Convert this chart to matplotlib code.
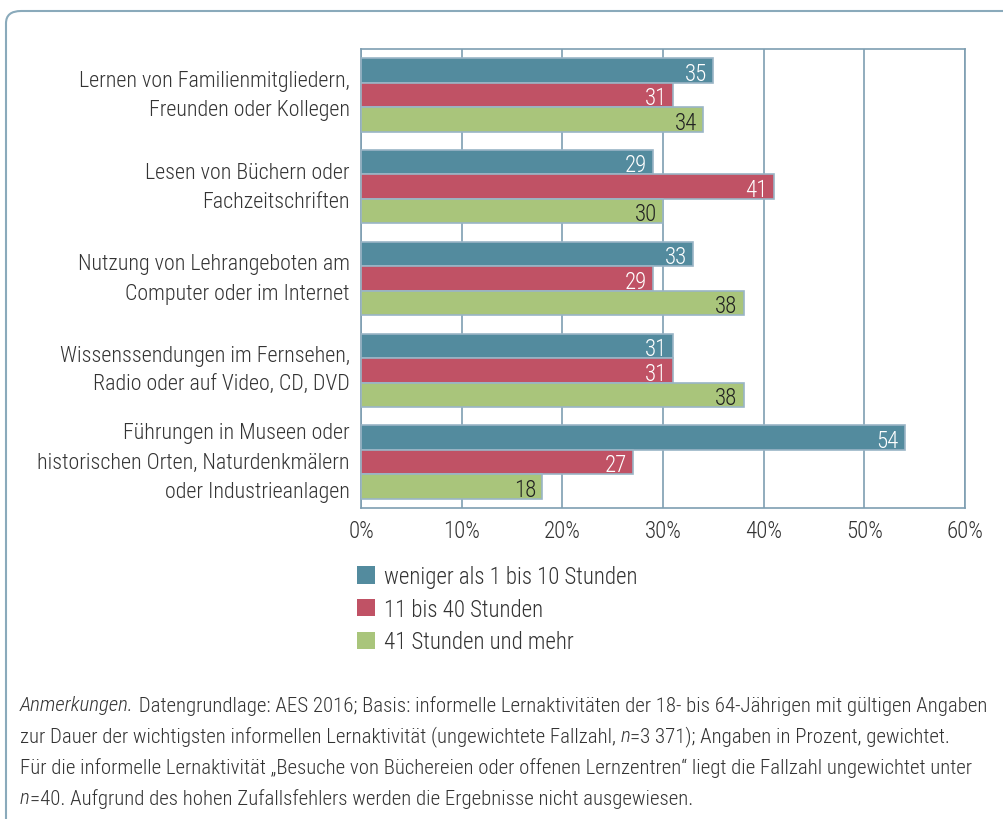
import matplotlib.pyplot as plt
from matplotlib.patches import FancyBboxPatch, Patch

# data
categories = [
    "Lernen von Familienmitgliedern,\nFreunden oder Kollegen",
    "Lesen von Büchern oder\nFachzeitschriften",
    "Nutzung von Lehrangeboten am\nComputer oder im Internet",
    "Wissenssendungen im Fernsehen,\nRadio oder auf Video, CD, DVD",
    "Führungen in Museen oder\nhistorischen Orten, Naturdenkmälern\noder Industrieanlagen",
]
series_names = ["weniger als 1 bis 10 Stunden", "11 bis 40 Stunden", "41 Stunden und mehr"]
short_vals = [35, 29, 33, 31, 54]
mid_vals = [31, 41, 29, 31, 27]
long_vals = [34, 30, 38, 38, 18]
x_ticks = [0, 10, 20, 30, 40, 50, 60]

colors = ["#538b9e", "#c05265", "#a9c57b"]
label_colors = ["white", "white", "#222222"]
edge = "#9ab5c6"
grid_col = "#7e9eb1"
text_col = "#333333"

plt.rcParams["font.family"] = ["Roboto Condensed", "Fira Sans Condensed", "DejaVu Sans"]
plt.rcParams["font.weight"] = "light"

fig = plt.figure(figsize=(10.04, 8.2), dpi=100)

# outer rounded frame, only top and left edges visible
frame = FancyBboxPatch((6 / 1004, -0.2), 1.1, 1.2 - 12 / 820,
                       boxstyle="round,pad=0,rounding_size=0.015",
                       transform=fig.transFigure, fill=False,
                       edgecolor="#8aaabb", linewidth=1.5)
fig.patches.append(frame)

ax = fig.add_axes([361 / 1004, 1 - 509 / 820, (965 - 361) / 1004, (509 - 50) / 820])

h = 0.267
n = len(categories)
all_vals = [short_vals, mid_vals, long_vals]
for i, vals in enumerate(all_vals):
    ys = [k + (i - 1) * h for k in range(n)]
    ax.barh(ys, vals, height=h, color=colors[i], edgecolor=edge,
            linewidth=1.2, zorder=3, label=series_names[i])
    for y, v in zip(ys, vals):
        ax.text(v - 0.6, y + 0.03, str(v), ha="right", va="center",
                color=label_colors[i], fontsize=16.5, zorder=4)

ax.set_ylim(n - 0.5, -0.5)
ax.set_xlim(0, 60)
ax.set_xticks(x_ticks)
ax.set_xticklabels([f"{t}%" for t in x_ticks])
ax.set_yticks(range(n))
ax.set_yticklabels(categories, fontsize=15.8, color=text_col, linespacing=1.52)
for lbl in ax.get_yticklabels():
    lbl.set_va("center")
ax.tick_params(axis="both", length=0, pad=8, colors=text_col)
ax.tick_params(axis="x", labelsize=16.5, pad=8)
ax.grid(axis="x", color=grid_col, linewidth=1.2, zorder=0)
for s in ax.spines.values():
    s.set_color(grid_col)
    s.set_linewidth(1.2)

handles = [Patch(facecolor=c, edgecolor="none") for c in colors]
fig.legend(handles, series_names, loc="upper left",
           bbox_to_anchor=(357 / 1004, 1 - 566 / 820), frameon=False,
           borderaxespad=0, borderpad=0,
           fontsize=16.5, handlelength=0.8, handleheight=0.8,
           handletextpad=0.4, labelspacing=0.42, labelcolor=text_col)

note_fs = 15
lines = [
    [("Anmerkungen.", True), (" Datengrundlage: AES 2016; Basis: informelle Lernaktivitäten der 18- bis 64-Jährigen mit gültigen Angaben", False)],
    [("zur Dauer der wichtigsten informellen Lernaktivität (ungewichtete Fallzahl, ", False), ("n", True), ("=3 371); Angaben in Prozent, gewichtet.", False)],
    [("Für die informelle Lernaktivität „Besuche von Büchereien oder offenen Lernzentren“ liegt die Fallzahl ungewichtet unter", False)],
    [("n", True), ("=40. Aufgrund des hohen Zufallsfehlers werden die Ergebnisse nicht ausgewiesen.", False)],
]
line_y = [706, 737, 768, 799]
fig.canvas.draw()
r = fig.canvas.get_renderer()
for parts, yp in zip(lines, line_y):
    x = 20 / 1004
    for txt, it in parts:
        t = fig.text(x, 1 - yp / 820, txt, fontsize=note_fs, color=text_col,
                     style="italic" if it else "normal", va="center", ha="left")
        bb = t.get_window_extent(renderer=r)
        x += bb.width / 1004

fig.savefig("out.png", dpi=100)
